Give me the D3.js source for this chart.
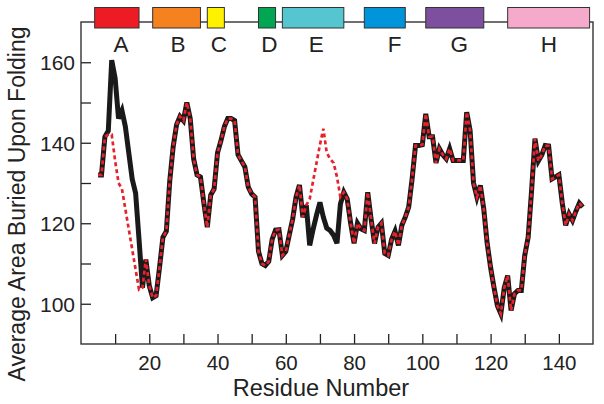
<!DOCTYPE html>
<html>
<head>
<meta charset="utf-8">
<script src="https://cdn.jsdelivr.net/npm/d3@7"></script>
<style>
  html, body { margin: 0; padding: 0; background: #fff; }
  svg { display: block; }
  text { font-family: "Liberation Sans", Arial, sans-serif; fill: #222; }
</style>
</head>
<body>
<svg id="chart" width="604" height="404"></svg>
<script>
// ---- data ----
const residues = d3.range(5, 148);
// black solid line (one value per residue 5..147)
const blackValues = [
  132, 132, 141.5, 143, 160.5, 156, 146, 148, 144, 137.5,
  131, 127.5, 116, 104, 111, 104.5, 101.5, 102, 109, 116.5,
  118, 130.5, 139, 144.5, 146.5, 145.5, 150, 146, 136, 132,
  131.5, 125, 119, 127, 128.5, 137.5, 140.5, 144, 146, 146,
  145.5, 137, 135.5, 134, 129, 127.3, 126.5, 113, 110, 109.5,
  110.5, 116, 118.3, 118.4, 112, 113, 117, 121, 126.5, 129.5,
  121.5, 124.5, 114.5, 118.5, 122, 125.2, 121.5, 118.8, 118.2, 117,
  115, 124.8, 127.7, 126, 120, 115, 120, 118.6, 118.2, 127.7,
  121, 115, 119, 120, 112.5, 112, 116, 118, 114.5, 119.5,
  121.5, 124, 131, 139.3, 139.3, 139.5, 147.2, 141.5, 141.5, 135,
  138.5, 137, 136, 138.5, 135.6, 135.6, 135.6, 135.6, 147.6, 143,
  130, 126.5, 129.4, 123.5, 115, 109, 104, 99.5, 97.5, 104,
  107, 98.3, 102.5, 103.3, 103.3, 112, 116.5, 128, 141, 135.5,
  137, 139.3, 139.2, 131, 131.5, 132, 125, 119.5, 122.3, 120.7,
  123, 125, 124
];
// red dashed line: same as black except where listed
const redOverrides = {
  7: 141.5, 8: 142, 9: 142, 10: 135.5, 11: 130, 12: 128.5, 13: 123.5,
  14: 118.5, 15: 113.5, 16: 108.5, 17: 103.5,
  67: 126, 68: 130.5, 69: 135, 70: 139.5, 71: 143.5, 72: 137.5,
  73: 136, 74: 135, 75: 131.5, 76: 126.5
};
const redValues = residues.map((r, i) => redOverrides[r] !== undefined ? redOverrides[r] : blackValues[i]);

// helix boxes
const helixNames  = ["A", "B", "C", "D", "E", "F", "G", "H"];
const helixStart  = [4, 21, 37, 52, 59, 83, 101, 125];
const helixEnd    = [17, 35, 42, 57, 77, 95, 118, 149];
const helixLabelX = [11.7, 28.4, 40.4, 55.2, 68.9, 91.9, 110.8, 137.1];
const helixColors = ["#ED1C24", "#F5821F", "#FFF200", "#00A651", "#55C5CF", "#0095DA", "#7E4E9F", "#F5A9CB"];

const xTicks = d3.range(10, 150, 10);
const xTickLabels = [20, 40, 60, 80, 100, 120, 140];
const yTicks = d3.range(100, 170, 10);
const yTickLabels = [100, 120, 140, 160];

// ---- drawing ----
const svg = d3.select("#chart");
const mLeft = 81, mRight = 593, mTop = 22, mBottom = 344;
const x = d3.scaleLinear().domain([0, 150]).range([mLeft, mRight]);
const y = d3.scaleLinear().domain([90, 170]).range([mBottom, mTop]);

svg.append("rect").attr("width", 604).attr("height", 404).attr("fill", "#fff");

// axes (inner ticks)
const xAxis = d3.axisBottom(x).tickValues(xTicks).tickSize(-10).tickFormat(d => xTickLabels.includes(d) ? d : "");
const gx = svg.append("g").attr("transform", `translate(0,${mBottom})`).call(xAxis);
gx.select(".domain").remove();
gx.selectAll(".tick line").attr("stroke", "#222").attr("stroke-width", 1.3);
gx.selectAll(".tick text").attr("font-size", 20.5).attr("dy", "0").attr("y", 25.5).attr("fill", "#222")
  .style("font-family", "'Liberation Sans', Arial, sans-serif");

const yAxis = d3.axisLeft(y).tickValues(yTicks).tickSize(-10).tickFormat(d => yTickLabels.includes(d) ? d : "");
const gy = svg.append("g").attr("transform", `translate(${mLeft},0)`).call(yAxis);
gy.select(".domain").remove();
gy.selectAll(".tick line").attr("stroke", "#222").attr("stroke-width", 1.3);
gy.selectAll(".tick text").attr("font-size", 21).attr("x", -6).attr("dy", "0.36em").attr("fill", "#222")
  .style("font-family", "'Liberation Sans', Arial, sans-serif");

// frame
svg.append("rect").attr("x", mLeft).attr("y", mTop).attr("width", mRight - mLeft).attr("height", mBottom - mTop)
  .attr("fill", "none").attr("stroke", "#333").attr("stroke-width", 1.4);

// lines
const line = d3.line().x(d => x(d[0])).y(d => y(d[1]));
const blackData = residues.map((r, i) => [r, blackValues[i]]);
const redData = residues.map((r, i) => [r, redValues[i]]);
svg.append("path").datum(blackData).attr("d", line).attr("fill", "none")
  .attr("stroke", "#1a1a1a").attr("stroke-width", 5).attr("stroke-linejoin", "miter");
svg.append("path").datum(redData).attr("d", line).attr("fill", "none")
  .attr("stroke", "#E8222B").attr("stroke-width", 2.7).attr("stroke-dasharray", "4,3");

// helix boxes
const boxTop = 7.5, boxH = 20.5;
helixNames.forEach((n, i) => {
  svg.append("rect")
    .attr("x", x(helixStart[i])).attr("y", boxTop)
    .attr("width", x(helixEnd[i]) - x(helixStart[i])).attr("height", boxH)
    .attr("fill", helixColors[i]).attr("stroke", "#333").attr("stroke-width", 1);
  svg.append("text").attr("x", x(helixLabelX[i])).attr("y", 52)
    .attr("text-anchor", "middle").attr("font-size", 22.5).text(n);
});

// axis titles
svg.append("text").attr("x", 321).attr("y", 395.5).attr("text-anchor", "middle")
  .attr("font-size", 23.5).text("Residue Number");
svg.append("text").attr("transform", "translate(25,204) rotate(-90)").attr("text-anchor", "middle")
  .attr("font-size", 23).text("Average Area Buried Upon Folding");
</script>
</body>
</html>
